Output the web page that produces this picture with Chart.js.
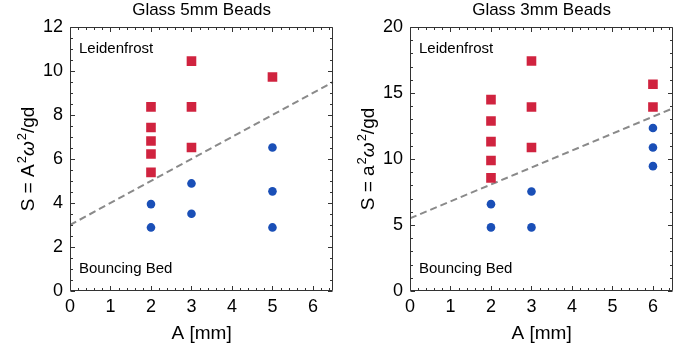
<!DOCTYPE html>
<html><head><meta charset="utf-8">
<script src="https://cdn.jsdelivr.net/npm/chart.js@4"></script>
<style>
html,body{margin:0;padding:0;background:#fff;width:680px;height:351px;overflow:hidden}
canvas{position:absolute;top:0}
</style></head><body>
<canvas id="c1" width="340" height="351" style="left:0"></canvas>
<canvas id="c2" width="340" height="351" style="left:340px"></canvas>
<script>
const xTicks = [0, 1, 2, 3, 4, 5, 6];

// Left panel: Glass 5mm Beads
const leftTitle = 'Glass 5mm Beads';
const leftYTitleParts = ['S = A', '2', 'ω', '2', '/gd'];
const leftYTicks = [0, 2, 4, 6, 8, 10, 12];
const leftLeidenX = [2, 2, 2, 2, 2, 3, 3, 3, 5];
const leftLeidenY = [8.37, 7.43, 6.82, 6.23, 5.39, 10.45, 8.37, 6.52, 9.73];
const leftBounceX = [2, 2, 3, 3, 5, 5, 5];
const leftBounceY = [3.95, 2.89, 4.89, 3.51, 6.52, 4.53, 2.89];
const leftLineX = [0, 6.5];
const leftLineY = [3, 9.5];

// Right panel: Glass 3mm Beads
const rightTitle = 'Glass 3mm Beads';
const rightYTitleParts = ['S = a', '2', 'ω', '2', '/gd'];
const rightYTicks = [0, 5, 10, 15, 20];
const rightLeidenX = [2, 2, 2, 2, 2, 3, 3, 3, 6, 6];
const rightLeidenY = [14.5, 12.88, 11.32, 9.89, 8.57, 17.42, 13.94, 10.87, 15.66, 13.94];
const rightBounceX = [2, 2, 3, 3, 6, 6, 6];
const rightBounceY = [6.58, 4.82, 7.54, 4.82, 12.35, 10.87, 9.46];
const rightLineX = [0, 6.5];
const rightLineY = [5.5, 13.85];

const RED = '#D0233F';
const BLUE = '#1A4FB7';
const FONT = 'Liberation Sans, Arial, sans-serif';

const zip = (xs, ys) => xs.map((x, i) => ({x: x, y: ys[i]}));

const framePlugin = {
  id: 'frameTicks',
  afterDatasetsDraw(chart, args, opts) {
    const ctx = chart.ctx;
    const a = chart.chartArea;
    const xs = chart.scales.x, ys = chart.scales.y;
    ctx.save();
    ctx.strokeStyle = '#333';
    ctx.lineWidth = 1;
    ctx.beginPath();
    const L = Math.round(a.left) + 0.5, R = Math.round(a.right) - 0.5;
    const T = Math.round(a.top) + 0.5, B = Math.round(a.bottom) - 0.5;
    ctx.rect(L, T, R - L, B - T);
    ctx.stroke();
    ctx.beginPath();
    for (let i = 0; i * opts.xMinor <= xs.max + 1e-9; i++) {
      const v = i * opts.xMinor;
      const major = Math.abs(v - Math.round(v)) < 1e-6;
      const len = major ? 4.5 : 2.5;
      const px = Math.round(xs.getPixelForValue(v)) + 0.5;
      ctx.moveTo(px, B); ctx.lineTo(px, B - len);
      ctx.moveTo(px, T); ctx.lineTo(px, T + len);
    }
    for (let i = 0; i * opts.yMinor <= ys.max + 1e-9; i++) {
      const v = i * opts.yMinor;
      const major = Math.abs(v / opts.yMajor - Math.round(v / opts.yMajor)) < 1e-6;
      const len = major ? 4.5 : 2.5;
      const py = Math.round(ys.getPixelForValue(v)) + 0.5;
      ctx.moveTo(L, py); ctx.lineTo(L + len, py);
      ctx.moveTo(R, py); ctx.lineTo(R - len, py);
    }
    ctx.stroke();
    ctx.fillStyle = '#000';
    ctx.textBaseline = 'middle';
    ctx.textAlign = 'left';
    ctx.font = '15px ' + FONT;
    ctx.fillText('Leidenfrost', a.left + 9, a.top + 22);
    ctx.fillText('Bouncing Bed', a.left + 9, a.bottom - 22);
    ctx.textAlign = 'center';
    ctx.font = '17px ' + FONT;
    ctx.fillText(opts.title, (a.left + a.right) / 2, 10);

    // rotated y-axis title with superscripts
    const p = opts.yParts;
    const fonts = ['19px ' + FONT, '13px ' + FONT, 'italic 19px ' + FONT, '13px ' + FONT, '19px ' + FONT];
    const raise = [0, -8, 0, -8, 0];
    const gap = [0, 1, 0, 1, 0];
    let total = 0;
    const widths = p.map((t, i) => { ctx.font = fonts[i]; const w = ctx.measureText(t).width + gap[i]; total += w; return w; });
    ctx.translate(34, (a.top + a.bottom) / 2);
    ctx.rotate(-Math.PI / 2);
    ctx.textAlign = 'left';
    ctx.textBaseline = 'alphabetic';
    let x = -total / 2;
    p.forEach((t, i) => {
      ctx.font = fonts[i];
      ctx.fillText(t, x + gap[i], raise[i]);
      x += widths[i];
    });
    ctx.restore();
  }
};

function makeChart(id, o) {
  return new Chart(document.getElementById(id), {
    type: 'scatter',
    data: {
      datasets: [
        {type: 'line', data: zip(o.lineX, o.lineY), borderColor: '#8a8a8a', borderWidth: 2,
         borderDash: [7, 4], pointRadius: 0, fill: false, order: 3},
        {data: zip(o.leidX, o.leidY), pointStyle: 'rect', pointRadius: 6.8,
         backgroundColor: RED, borderColor: RED, borderWidth: 0, order: 1},
        {data: zip(o.bounceX, o.bounceY), pointStyle: 'circle', pointRadius: 4.3,
         backgroundColor: BLUE, borderColor: BLUE, borderWidth: 0, order: 2}
      ]
    },
    options: {
      responsive: false,
      animation: false,
      events: [],
      layout: {padding: {left: 0, right: 5, top: 27, bottom: 0}},
      plugins: {legend: {display: false}, tooltip: {enabled: false},
        frameTicks: {title: o.title, yParts: o.yParts, xMinor: 0.2, yMinor: o.yMinor, yMajor: o.yMajor}},
      scales: {
        x: {
          type: 'linear', min: 0, max: 6.5,
          afterBuildTicks: s => { s.ticks = xTicks.map(v => ({value: v})); },
          afterFit: s => { s.height = 60; },
          grid: {display: false, drawTicks: false},
          border: {display: false},
          ticks: {font: {family: FONT, size: 18}, color: '#000', padding: 5, maxRotation: 0, autoSkip: false},
          title: {display: true, text: 'A [mm]', font: {family: FONT, size: 19}, color: '#000',
                  padding: {top: 0, bottom: 6}}
        },
        y: {
          type: 'linear', min: 0, max: o.yTicks[o.yTicks.length - 1],
          afterBuildTicks: s => { s.ticks = o.yTicks.map(v => ({value: v})); },
          afterFit: s => { s.width = 70; },
          grid: {display: false, drawTicks: false},
          border: {display: false},
          ticks: {font: {family: FONT, size: 18}, color: '#000', padding: 7, autoSkip: false},
          title: {display: false}
        }
      }
    },
    plugins: [framePlugin]
  });
}

makeChart('c1', {title: leftTitle, yParts: leftYTitleParts, yTicks: leftYTicks, yMinor: 0.5, yMajor: 2,
  leidX: leftLeidenX, leidY: leftLeidenY, bounceX: leftBounceX, bounceY: leftBounceY,
  lineX: leftLineX, lineY: leftLineY});
makeChart('c2', {title: rightTitle, yParts: rightYTitleParts, yTicks: rightYTicks, yMinor: 1, yMajor: 5,
  leidX: rightLeidenX, leidY: rightLeidenY, bounceX: rightBounceX, bounceY: rightBounceY,
  lineX: rightLineX, lineY: rightLineY});
</script>
</body></html>
